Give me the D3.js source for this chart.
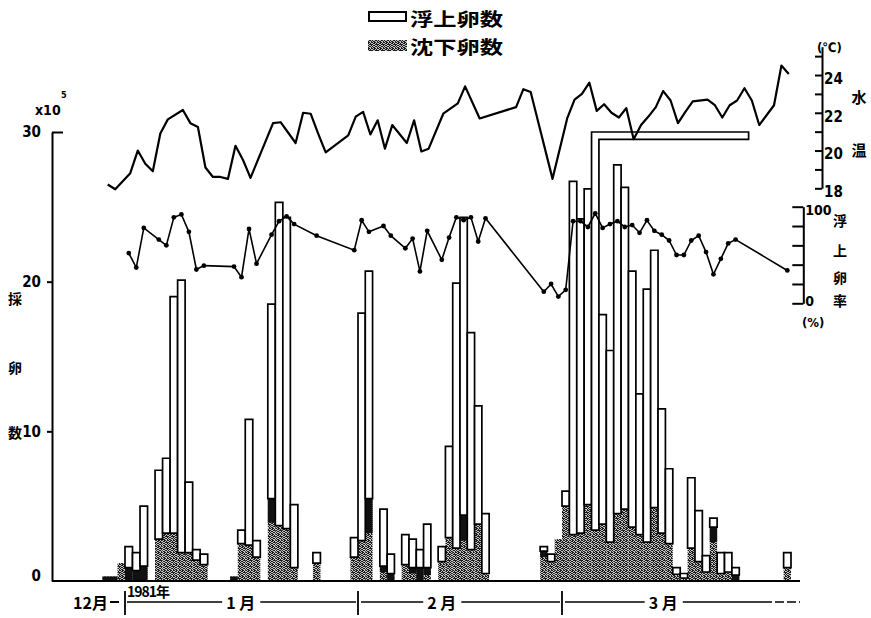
<!DOCTYPE html>
<html>
<head>
<meta charset="utf-8">
<script src="https://cdnjs.cloudflare.com/ajax/libs/d3/7.8.5/d3.min.js"></script>
<style>
  body { margin: 0; background: #fff; }
  svg { display: block; }
</style>
</head>
<body>
<div id="chart"></div>
<script>
// all days are counted from 1 Jan 1981 (negative = late Dec 1980)
const barDays   = [-3, -2, -1, 0, 1, 2, 4, 5, 6, 7, 8, 9, 10, 14, 15, 16, 17, 19, 20, 21, 22, 25,
                   30, 31, 32, 34, 35, 37, 38, 39, 40, 42, 43, 44, 45, 46, 47, 48,
                   56, 57, 58, 59, 60, 61, 62, 63, 64, 65, 66, 67, 68, 69, 70, 71, 72, 73,
                   74, 75, 76, 77, 78, 79, 80, 81, 82, 89];
// x10^5 eggs
const floatEggs = [0, 0, 0, 1.4, 1.2, 4.0, 4.6, 5.0, 15.8, 18.2, 4.7, 0.7, 0.7, 0, 0.9, 8.4, 1.1, 13.0, 21.6, 20.8, 4.2, 0.7,
                   1.3, 15.2, 15.2, 3.8, 1.3, 2.0, 1.9, 1.2, 2.9, 1.0, 6.1, 17.7, 19.9, 14.5, 7.9, 4.0,
                   0.3, 0.5, 0, 1.0, 23.6, 21.0, 21.1, 36.6, 14.0, 12.8, 23.3, 21.5, 17.1, 9.4, 16.9, 17.2, 8.3, 5.0,
                   0.45, 0.3, 4.7, 3.4, 1.1, 0.6, 1.4, 1.3, 0.5, 1.0];
const sinkEggs  = [0.3, 0.3, 1.2, 0.9, 0.7, 1.0, 2.8, 3.2, 3.2, 1.9, 1.9, 1.4, 1.1, 0.3, 2.5, 2.4, 1.6, 5.5, 3.7, 3.5, 0.9, 1.2,
                   1.6, 2.7, 5.5, 1.0, 0.5, 1.1, 0.9, 0.9, 0.9, 1.3, 2.9, 2.2, 4.4, 2.1, 3.8, 0.5,
                   2.0, 1.3, 2.8, 5.0, 3.1, 3.2, 5.1, 3.4, 3.8, 2.6, 4.5, 4.8, 3.6, 3.1, 2.6, 4.9, 3.2, 2.5,
                   0.45, 0.2, 2.2, 1.3, 0.6, 3.6, 0.5, 0.6, 0.4, 0.9];
// darker (black) top part of the sinking eggs
const darkEggs  = [0.3, 0.3, 0, 0.9, 0.7, 1.0, 0, 0, 0, 0, 0, 0, 0, 0.3, 0, 0, 0, 1.6, 0, 0, 0, 0,
                   0, 0, 2.3, 0.4, 0.5, 0, 0.4, 0.9, 0.5, 0, 0, 0, 1.7, 0, 0, 0,
                   0.4, 0, 0, 0, 0, 0, 0, 0, 0, 0, 0, 0, 0, 0, 0, 0, 0, 0,
                   0, 0, 0, 0, 0, 1.0, 0, 0, 0.4, 0];

// water temperature (°C)
const tempDays   = [-3, -2, 0, 1, 2, 3, 4, 5, 7, 8, 9, 10, 11, 12, 13, 14, 15, 16, 19, 20, 22, 23, 24, 25, 26,
                    29, 30, 31, 32, 33, 34, 35, 37, 38, 39, 40, 42, 44, 45, 47, 52, 53, 54, 57,
                    59, 60, 61, 62, 63, 64, 65, 66, 67, 68, 69, 70, 71, 72, 73, 74, 75, 76, 78, 79, 80,
                    81, 82, 83, 84, 85, 87, 88, 89];
const tempValues = [18.2, 17.95, 18.8, 20.0, 19.3, 18.9, 20.9, 21.65, 22.15, 21.45, 21.25, 19.1, 18.6, 18.6, 18.5, 20.25, 19.5, 18.55, 21.45, 21.5, 20.4, 22.0, 21.95, 20.9, 19.9,
                    20.8, 21.8, 22.05, 20.85, 21.6, 20.1, 21.35, 20.4, 21.6, 19.95, 20.1, 21.95, 22.5, 23.4, 21.7, 22.3, 23.25, 23.1, 18.5,
                    21.7, 22.7, 23.0, 23.6, 22.1, 22.45, 22.0, 21.75, 22.25, 20.6, 21.35, 21.8, 22.3, 23.15, 22.65, 21.45, 22.05, 22.6, 22.7, 22.4, 21.75,
                    22.4, 22.65, 23.3, 22.65, 21.35, 22.4, 24.5, 24.05];

// floating egg rate (%)
const rateDays   = [0, 1, 2, 4, 5, 6, 7, 8, 9, 10, 14, 15, 16, 17, 19, 20, 21, 22, 25,
                    30, 31, 32, 34, 35, 37, 38, 39, 40, 42, 43, 44, 45, 46, 47, 48,
                    56, 57, 58, 59, 60, 61, 62, 63, 64, 65, 66, 67, 68, 69, 70, 71, 72, 73,
                    74, 75, 76, 77, 78, 79, 80, 81, 82, 89];
const rateValues = [52, 37, 78, 66, 60, 89, 92, 74, 35, 39, 38, 27, 77, 41, 71, 85, 90, 82, 70,
                    55, 86, 74, 80, 70, 57, 67, 33, 75, 45, 68, 89, 86, 89, 64, 88,
                    12, 20, 7, 14, 85, 85, 79, 93, 78, 82, 85, 79, 81, 73, 86, 75, 71, 65,
                    50, 50, 65, 70, 53, 30, 46, 62, 66, 34];

const eggTicks  = [0, 10, 20, 30];
const tempTicks = [18, 19, 20, 21, 22, 23, 24, 25];
const rateTicks = [0, 20, 40, 60, 80, 100];
const monthStartDays = [0, 31, 59];
const monthLabels    = ["1 月", "2 月", "3 月"];
const monthLabelDays = [15.4, 42.5, 72.7];

const NUM = '"Liberation Sans Narrow","DejaVu Sans Condensed","Liberation Sans",sans-serif';
const JP = '"Noto Sans CJK JP","Noto Sans CJK SC",sans-serif';

const svg = d3.select("#chart").append("svg")
    .attr("width", 871)
    .attr("height", 618);

/** stipple pattern for the sinking eggs */
const defs = svg.append("defs");
const pat = defs.append("pattern")
    .attr("id", "stipple")
    .attr("patternUnits", "userSpaceOnUse")
    .attr("width", 6)
    .attr("height", 6);
pat.append("rect").attr("width", 6).attr("height", 6).attr("fill", "#c4c4c4");
[[0,0],[2,0],[3,0],[5,0],[1,1],[2,1],[4,1],[0,2],[3,2],[4,2],[1,3],[2,3],[5,3],
 [0,4],[3,4],[4,4],[1,5],[2,5],[5,5],[5,2]]
    .forEach(p => pat.append("rect").attr("x", p[0]).attr("y", p[1])
        .attr("width", 1).attr("height", 1).attr("fill", "#1a1a1a"));

/** scales */
const jan1 = Date.UTC(1981, 0, 1);
const x = d3.scaleUtc()
    .domain([new Date(jan1), new Date(Date.UTC(1981, 1, 1)), new Date(Date.UTC(1981, 2, 1)), new Date(Date.UTC(1981, 3, 1))])
    .range([125, 358, 562, 791]);
const xd = d => x(new Date(jan1 + d * 864e5));

const y = d3.scaleLinear().domain([0, 30]).range([581, 132]);
const yT = d3.scaleLinear().domain([18, 25.5]).range([188.3, 46.7]);
const yR = d3.scaleLinear().domain([0, 100]).range([303.3, 206.7]);

/** bars */
const bars = barDays.map((d, i) => ({ d: d, fl: floatEggs[i], sk: sinkEggs[i], dk: darkEggs[i] }));
const barG = svg.append("g").attr("class", "bars");

barG.selectAll("rect.sink")
    .data(bars.filter(b => b.sk > 0))
    .enter().append("rect")
    .attr("class", "sink")
    .attr("x", b => xd(b.d))
    .attr("width", b => xd(b.d + 1) - xd(b.d))
    .attr("y", b => y(b.sk))
    .attr("height", b => y(0) - y(b.sk))
    .attr("fill", "url(#stipple)");

barG.selectAll("rect.dark")
    .data(bars.filter(b => b.dk > 0))
    .enter().append("rect")
    .attr("class", "dark")
    .attr("x", b => xd(b.d))
    .attr("width", b => xd(b.d + 1) - xd(b.d))
    .attr("y", b => y(b.sk))
    .attr("height", b => y(b.sk - b.dk) - y(b.sk))
    .attr("fill", "#111");

// floating part: white bars; values above 30 bend to the right
const unitPx = y(0) - y(1);
barG.selectAll("path.float")
    .data(bars.filter(b => b.fl > 0))
    .enter().append("path")
    .attr("class", "float")
    .attr("fill", "#fff")
    .attr("stroke", "#000")
    .attr("stroke-width", 1.7)
    .attr("stroke-linejoin", "miter")
    .attr("d", b => {
        const x0 = xd(b.d), x1 = xd(b.d + 1);
        const total = b.sk + b.fl;
        if (total <= 30) {
            return `M${x0},${y(b.sk)}V${y(total)}H${x1}V${y(b.sk)}Z`;
        }
        const w = x1 - x0;
        const xEnd = x1 + (total - 30) * unitPx;
        return `M${x0},${y(b.sk)}V${y(30)}H${xEnd}V${y(30) + w}H${x1}V${y(b.sk)}Z`;
    });

/** baseline */
svg.append("line")
    .attr("x1", 52).attr("x2", 800)
    .attr("y1", y(0)).attr("y2", y(0))
    .attr("stroke", "#000").attr("stroke-width", 2.2);

/** left axis */
const axisL = svg.append("g")
    .attr("transform", "translate(52,0)")
    .call(d3.axisLeft(y).tickValues(eggTicks).tickSize(5).tickSizeOuter(0).tickPadding(6));
axisL.select(".domain").attr("stroke-width", 2);
axisL.selectAll(".tick line").attr("stroke-width", 2)
    .attr("x2", d => d === 30 ? 11 : (d === 0 ? 0 : -5));
axisL.selectAll(".tick text")
    .attr("font-family", NUM).attr("font-size", 15).attr("font-weight", "bold")
    .attr("fill", "#000")
    .attr("dy", d => d === 0 ? "-0.05em" : "0.32em");

svg.append("text")
    .attr("x", 35).attr("y", 115)
    .attr("font-family", NUM).attr("font-size", 14).attr("font-weight", "bold")
    .text("x10");
svg.append("text")
    .attr("x", 61).attr("y", 98)
    .attr("font-family", NUM).attr("font-size", 9).attr("font-weight", "bold")
    .text("5");

svg.selectAll("text.ylab")
    .data(["採", "卵", "数"])
    .enter().append("text")
    .attr("class", "ylab")
    .attr("x", 15)
    .attr("y", (d, i) => [304, 373, 438][i])
    .attr("text-anchor", "middle")
    .attr("font-family", JP).attr("font-size", 14).attr("font-weight", "bold")
    .text(d => d);

/** water temperature axis */
const axisT = svg.append("g")
    .attr("transform", "translate(822,0)")
    .call(d3.axisRight(yT).tickValues(tempTicks).tickSize(-7).tickSizeOuter(0).tickPadding(2)
        .tickFormat(d => d % 2 === 0 && d <= 24 ? d : ""));
axisT.select(".domain").attr("stroke-width", 2);
axisT.selectAll(".tick line").attr("stroke-width", 2);
axisT.selectAll(".tick text")
    .attr("font-family", NUM).attr("font-size", 15).attr("font-weight", "bold")
    .attr("fill", "#000").attr("dy", "0.55em");
svg.append("text")
    .attr("x", 817).attr("y", 52)
    .attr("font-family", NUM).attr("font-size", 13).attr("font-weight", "bold")
    .text("(℃)");
svg.selectAll("text.tlab")
    .data(["水", "温"])
    .enter().append("text")
    .attr("class", "tlab")
    .attr("x", 859)
    .attr("y", (d, i) => [103, 156][i])
    .attr("text-anchor", "middle")
    .attr("font-family", JP).attr("font-size", 15).attr("font-weight", "bold")
    .text(d => d);

/** floating rate axis */
const axisR = svg.append("g")
    .attr("transform", "translate(803.3,0)")
    .call(d3.axisRight(yR).tickValues(rateTicks).tickSize(-11).tickSizeOuter(0).tickPadding(2)
        .tickFormat(d => d === 0 || d === 100 ? d : ""));
axisR.select(".domain").attr("stroke-width", 2);
axisR.selectAll(".tick line").attr("stroke-width", 2);
axisR.selectAll(".tick text")
    .attr("font-family", NUM).attr("font-size", 14).attr("font-weight", "bold")
    .attr("fill", "#000")
    .attr("dy", d => d === 100 ? "0.55em" : "0.15em");
svg.append("text")
    .attr("x", 802).attr("y", 327)
    .attr("font-family", NUM).attr("font-size", 13).attr("font-weight", "bold")
    .text("(%)");
svg.selectAll("text.rlab")
    .data(["浮", "上", "卵", "率"])
    .enter().append("text")
    .attr("class", "rlab")
    .attr("x", 840)
    .attr("y", (d, i) => [226, 256, 283, 306][i])
    .attr("text-anchor", "middle")
    .attr("font-family", JP).attr("font-size", 14).attr("font-weight", "bold")
    .text(d => d);

/** water temperature line */
const tempLine = d3.line()
    .x(d => xd(d.d + 0.7))
    .y(d => yT(d.v));
svg.append("path")
    .datum(tempDays.map((d, i) => ({ d: d, v: tempValues[i] })))
    .attr("fill", "none")
    .attr("stroke", "#000")
    .attr("stroke-width", 2.2)
    .attr("stroke-linejoin", "round")
    .attr("d", tempLine);

/** floating rate line */
const rateData = rateDays.map((d, i) => ({ d: d, v: rateValues[i] }));
const rateLine = d3.line()
    .x(d => xd(d.d + 0.5))
    .y(d => yR(d.v));
svg.append("path")
    .datum(rateData)
    .attr("fill", "none")
    .attr("stroke", "#000")
    .attr("stroke-width", 1.6)
    .attr("d", rateLine);
svg.append("g").selectAll("circle")
    .data(rateData)
    .enter().append("circle")
    .attr("cx", d => xd(d.d + 0.5))
    .attr("cy", d => yR(d.v))
    .attr("r", 2.4)
    .attr("fill", "#000");

/** month axis under the chart */
const mAxis = svg.append("g").attr("class", "months");
const lineY = 602;
monthStartDays.forEach(d => {
    mAxis.append("line")
        .attr("x1", xd(d)).attr("x2", xd(d))
        .attr("y1", 591).attr("y2", 615)
        .attr("stroke", "#000").attr("stroke-width", 1.8);
});
const boxes = monthLabels.map((t, i) => {
    const txt = mAxis.append("text")
        .attr("x", xd(monthLabelDays[i]))
        .attr("y", 609)
        .attr("text-anchor", "middle")
        .attr("font-family", JP).attr("font-size", 16).attr("font-weight", "bold")
        .text(t);
    return txt.node().getBBox();
});
const segs = [
    [xd(0) + 2, boxes[0].x - 4],
    [boxes[0].x + boxes[0].width + 5, xd(31) - 2],
    [xd(31) + 3, boxes[1].x - 4],
    [boxes[1].x + boxes[1].width + 5, xd(59) - 2],
    [xd(59) + 3, boxes[2].x - 4],
    [boxes[2].x + boxes[2].width + 5, 763]
];
segs.forEach(s => {
    mAxis.append("line")
        .attr("x1", s[0]).attr("x2", s[1])
        .attr("y1", lineY).attr("y2", lineY)
        .attr("stroke", "#000").attr("stroke-width", 1.5);
});
mAxis.append("line")
    .attr("x1", 763).attr("x2", 800)
    .attr("y1", lineY).attr("y2", lineY)
    .attr("stroke", "#000").attr("stroke-width", 1.5)
    .attr("stroke-dasharray", "9,3");

mAxis.append("text")
    .attr("x", 108).attr("y", 609)
    .attr("text-anchor", "end")
    .attr("font-family", JP).attr("font-size", 16).attr("font-weight", "bold")
    .text("12月");
mAxis.append("line")
    .attr("x1", 110).attr("x2", 119)
    .attr("y1", lineY).attr("y2", lineY)
    .attr("stroke", "#000").attr("stroke-width", 2);
mAxis.append("text")
    .attr("x", 127).attr("y", 597)
    .attr("font-family", JP).attr("font-size", 14).attr("font-weight", "bold")
    .attr("letter-spacing", -1)
    .text("1981年");

/** legend */
const legend = svg.append("g").attr("class", "legend");
legend.append("rect")
    .attr("x", 369).attr("y", 12).attr("width", 37).attr("height", 9)
    .attr("fill", "#fff").attr("stroke", "#000").attr("stroke-width", 2);
legend.append("rect")
    .attr("x", 368).attr("y", 40).attr("width", 39).attr("height", 11)
    .attr("fill", "url(#stipple)");
legend.selectAll("text")
    .data(["浮上卵数", "沈下卵数"])
    .enter().append("text")
    .attr("x", 410)
    .attr("y", (d, i) => [26, 54][i])
    .attr("font-family", JP).attr("font-size", 18).attr("font-weight", "bold")
    .attr("textLength", 93).attr("lengthAdjust", "spacingAndGlyphs")
    .text(d => d);
</script>
</body>
</html>
